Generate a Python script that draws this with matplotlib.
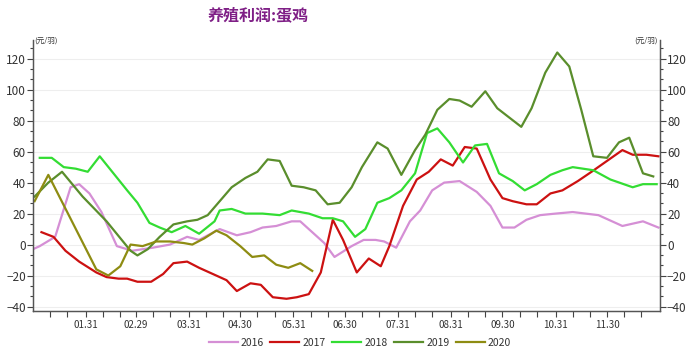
import matplotlib
matplotlib.use('Agg')
import matplotlib.pyplot as plt
from matplotlib.ticker import FixedLocator, MultipleLocator, AutoMinorLocator, NullFormatter

plt.rcParams['font.family'] = ['Noto Sans CJK SC', 'DejaVu Sans']

# 横轴: 一年中的第几天(按2020闰年), 纵轴: 元/羽
days_2016 = [0, 4, 13, 22, 27, 33, 40, 49, 58, 70, 80, 90, 97, 109, 119, 127, 134, 142,
             151, 156, 163, 170, 176, 186, 193, 200, 205, 212, 220, 226, 233, 240, 249,
             259, 267, 274, 281, 288, 296, 305, 315, 330, 344, 356, 365]
profit_2016 = [-3, -1, 5, 37, 39, 33, 21, -1, -4, -2, 0, 5, 3, 10, 6, 8, 11, 12,
               15, 15, 8, 1, -8, -1, 3, 3, 2, -2, 15, 22, 35, 40, 41,
               34, 25, 11, 11, 16, 19, 20, 21, 19, 12, 15, 11]

days_2017 = [5, 12, 19, 27, 37, 43, 50, 55, 61, 69, 76, 82, 90, 97, 107, 113, 119, 127,
             133, 140, 148, 154, 161, 168, 175, 181, 189, 196, 203, 208, 216, 224, 231,
             238, 245, 252, 259, 267, 274, 280, 288, 294, 302, 309, 318, 326, 335, 344,
             350, 358, 365]
profit_2017 = [8, 5, -4, -11, -18, -21, -22, -22, -24, -24, -19, -12, -11, -15, -20, -23, -30, -25,
               -26, -34, -35, -34, -32, -18, 16, 3, -18, -9, -14, -1, 25, 42, 47,
               55, 51, 63, 62, 42, 30, 28, 26, 26, 33, 35, 41, 47, 54, 61,
               58, 58, 57]

days_2018 = [4, 11, 18, 25, 32, 39, 47, 55, 61, 68, 74, 81, 89, 97, 106, 109, 116, 124,
             134, 144, 151, 161, 169, 175, 181, 188, 194, 201, 208, 215, 223, 230, 236,
             243, 251, 258, 265, 272, 280, 287, 294, 302, 309, 315, 327, 337, 350, 356, 364]
profit_2018 = [56, 56, 50, 49, 47, 57, 46, 35, 27, 14, 11, 8, 12, 7, 15, 22, 23, 20,
               20, 19, 22, 20, 17, 17, 15, 5, 10, 27, 30, 35, 46, 72, 75,
               66, 53, 64, 65, 46, 41, 35, 39, 45, 48, 50, 48, 42, 37, 39, 39]

days_2019 = [1, 9, 17, 29, 43, 57, 61, 67, 74, 82, 90, 96, 102, 109, 116, 124, 131, 137,
             144, 151, 158, 165, 172, 179, 186, 192, 201, 207, 215, 223, 229, 236, 243,
             249, 256, 264, 271, 278, 285, 291, 299, 306, 313, 320, 327, 335, 342, 348,
             356, 362]
profit_2019 = [31, 40, 47, 31, 15, -4, -7, -3, 5, 13, 15, 16, 19, 28, 37, 43, 47, 55,
               54, 38, 37, 35, 26, 27, 37, 50, 66, 62, 45, 61, 71, 87, 94,
               93, 89, 99, 88, 82, 76, 88, 111, 124, 115, 87, 57, 56, 66, 69,
               46, 44]

days_2020 = [1, 9, 37, 44, 51, 57, 64, 72, 80, 88, 93, 100, 107, 113, 121, 128, 135, 142,
             149, 156, 163]
profit_2020 = [28, 45, -16, -20, -14, 0, -1, 2, 2, 1, 0, 4, 9, 6, -1, -8, -7, -13,
               -15, -12, -17]

series = [
    ('2016', days_2016, profit_2016, '#D58FD5'),
    ('2017', days_2017, profit_2017, '#CC1111'),
    ('2018', days_2018, profit_2018, '#33DD33'),
    ('2019', days_2019, profit_2019, '#5A8E2C'),
    ('2020', days_2020, profit_2020, '#8E8C12'),
]

month_starts = [0, 31, 60, 91, 121, 152, 182, 213, 244, 274, 305, 335]
month_end_days = [31, 60, 91, 121, 152, 182, 213, 244, 274, 305, 335]
month_end_labels = ['01.31', '02.29', '03.31', '04.30', '05.31', '06.30',
                    '07.31', '08.31', '09.30', '10.31', '11.30']


def grafico_lucro_galinha():
    fig = plt.figure(figsize=(7, 3.52), dpi=100)
    ax = fig.add_axes([0.047, 0.116, 0.896, 0.77])

    for nome, dias, valores, cor in series:
        ax.plot(dias, valores, color=cor, lw=1.6, label=nome)

    ax.set_xlim(0, 366)
    ax.set_ylim(-43, 132)

    # eixo x
    ax.xaxis.set_major_locator(FixedLocator(month_end_days))
    ax.set_xticklabels(month_end_labels)
    minors = [s + 10 for s in month_starts] + [s + 20 for s in month_starts]
    ax.xaxis.set_minor_locator(FixedLocator(minors))
    ax.xaxis.set_minor_formatter(NullFormatter())
    ax.tick_params(axis='x', which='both', direction='out', length=4, width=0.8,
                   colors='#444444', labelsize=7, labelcolor='#333333', pad=2)

    # eixo y
    ax.yaxis.set_major_locator(MultipleLocator(20))
    ax.yaxis.set_minor_locator(AutoMinorLocator(3))
    ax.tick_params(axis='y', which='major', direction='out', length=4, width=0.8,
                   colors='#444444', labelsize=8.5, labelcolor='#333333', pad=1)
    ax.tick_params(axis='y', which='minor', direction='out', length=2.5, width=0.8,
                   colors='#444444')
    ax.grid(axis='y', color='#EEEEEE', lw=0.8)
    ax.set_axisbelow(True)

    ax2 = ax.twinx()
    ax2.set_ylim(ax.get_ylim())
    ax2.yaxis.set_major_locator(MultipleLocator(20))
    ax2.yaxis.set_minor_locator(AutoMinorLocator(3))
    ax2.tick_params(axis='y', which='major', direction='out', length=4, width=0.8,
                    colors='#444444', labelsize=8.5, labelcolor='#333333', pad=1)
    ax2.tick_params(axis='y', which='minor', direction='out', length=2.5, width=0.8,
                    colors='#444444')

    for a in (ax, ax2):
        a.spines['top'].set_visible(False)
        for s in ('left', 'right', 'bottom'):
            a.spines[s].set_color('#555555')
            a.spines[s].set_linewidth(0.9)

    fig.text(0.368, 0.957, '养殖利润:蛋鸡', color='#7F1F86', fontsize=11.5,
             fontweight='bold', ha='center', va='center')
    fig.text(0.049, 0.872, '(元/羽)', fontsize=5.5, color='#333333', ha='left', va='bottom')
    fig.text(0.940, 0.872, '(元/羽)', fontsize=5.5, color='#333333', ha='right', va='bottom')

    handles, labels = ax.get_legend_handles_labels()
    fig.legend(handles, labels, loc='lower center', bbox_to_anchor=(0.514, -0.015),
               ncol=5, frameon=False, fontsize=7.5, handlelength=2.8,
               handletextpad=0.3, columnspacing=0.6, labelcolor='#333333')

    fig.savefig('out.png', dpi=100)


def main():
    grafico_lucro_galinha()


if __name__ == "__main__":
    main()
